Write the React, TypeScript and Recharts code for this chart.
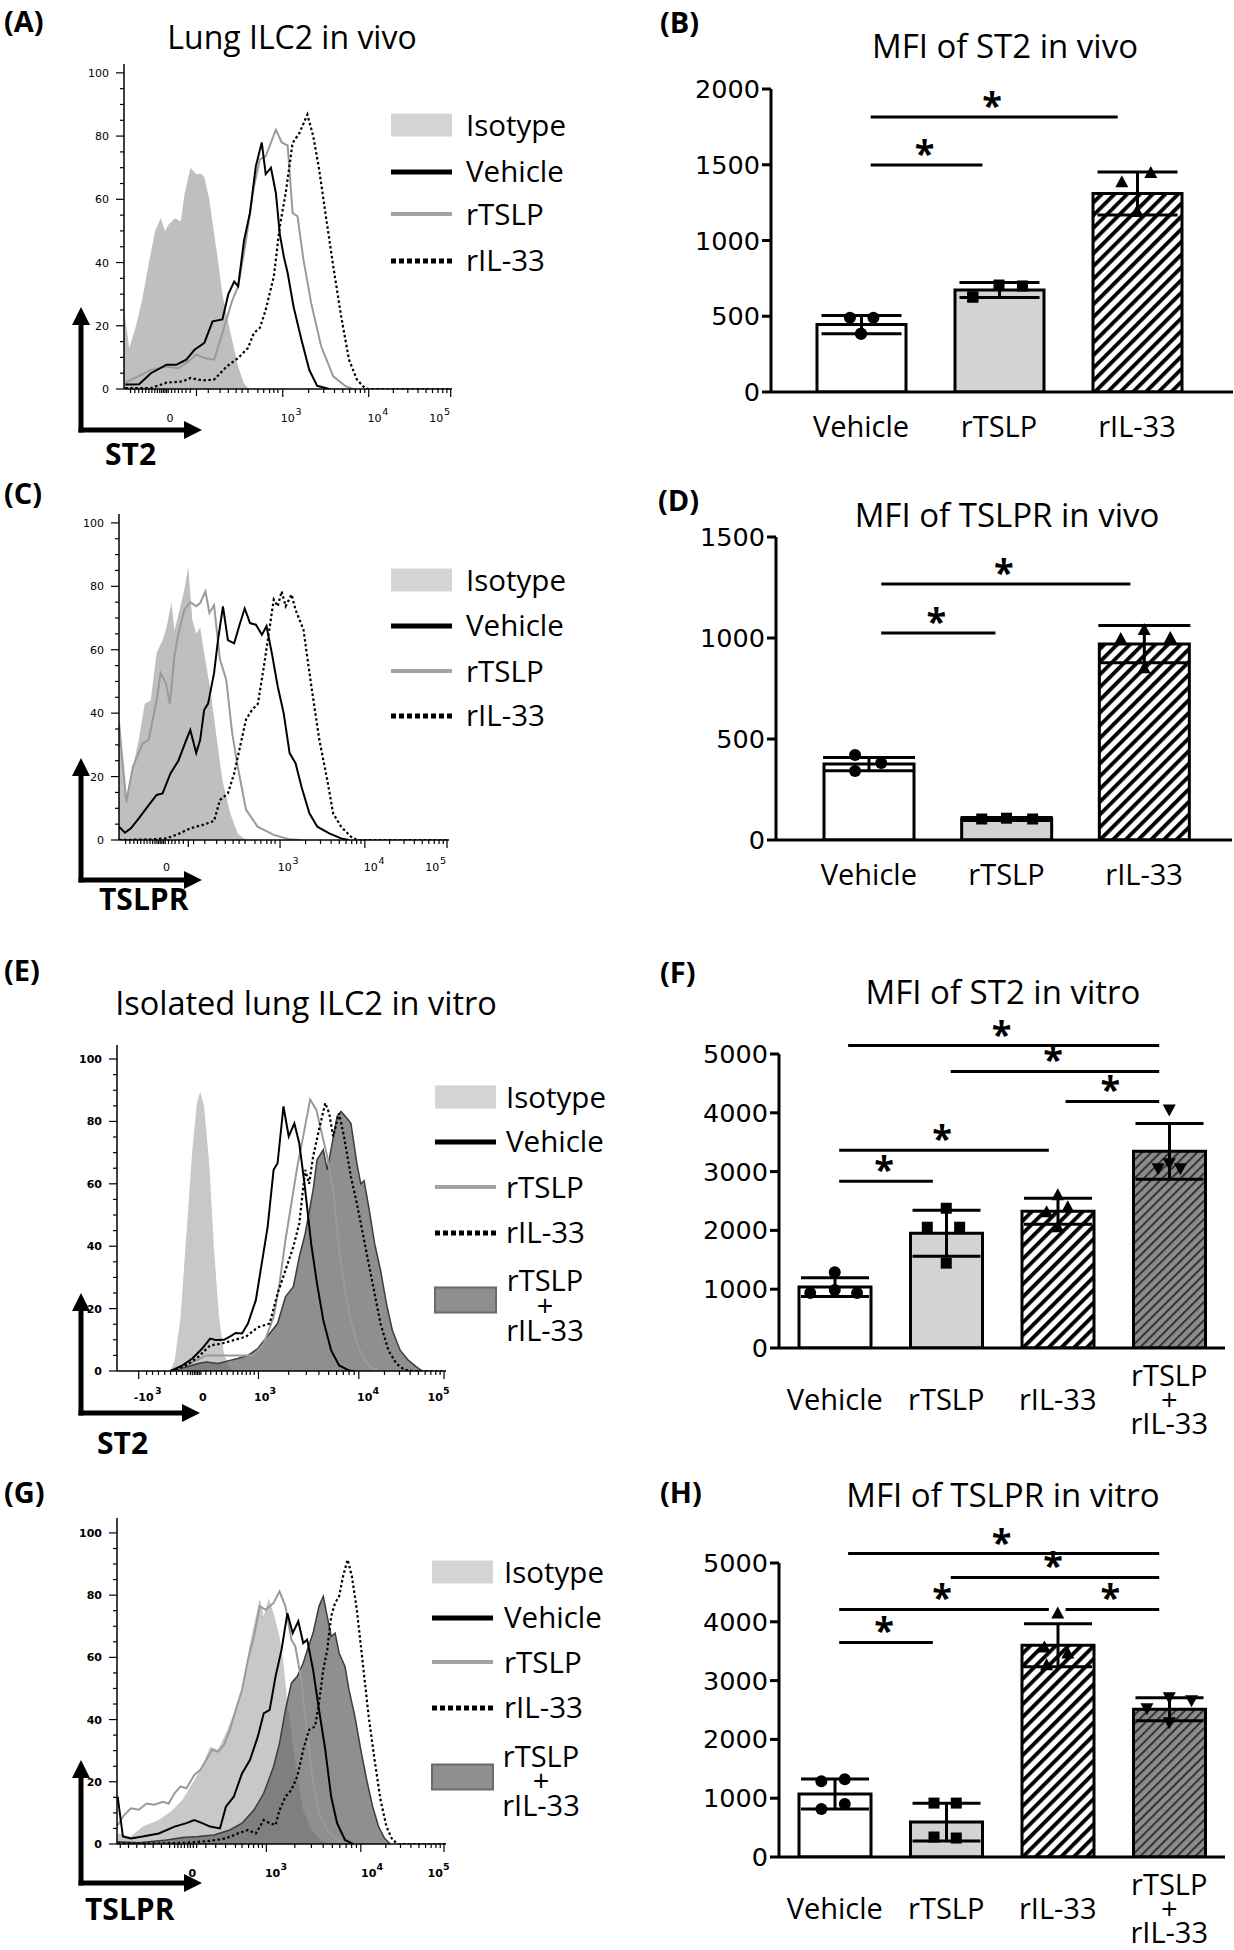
import React from "react";
import {
  ComposedChart,
  Line,
  Area,
  Bar,
  Cell,
  ErrorBar,
  Scatter,
  XAxis,
  YAxis,
  ReferenceLine,
  ReferenceDot,
} from "recharts";

const SANS = '"Open Sans", "Noto Sans", sans-serif';
const NUM = '"DejaVu Sans", sans-serif';

type Pt = [number, number];

// ---------- histogram curves: x = position across the plot (0..100), y = % of max ----------
const A_ISO: Pt[] = [[0,25],[1.6,13],[3.4,19],[5.5,28],[7.6,40],[9.5,50],[11.2,54],[12.5,50],[13.6,52],[15.5,54],[17.3,53],[18.5,62],[20.3,70],[22,68],[23.5,68],[24.5,67],[26,60],[27.5,49],[29,38],[30,30],[32.4,18],[34.8,7],[36.5,2],[38,0]];
const A_VEH: Pt[] = [[0.4,1.4],[4.6,1.5],[8.2,5],[13,7.7],[16,7.7],[19,9.3],[21.5,12.4],[24.5,14.6],[27,21.4],[30,22],[31.8,30],[33.6,34],[34.8,32.5],[36.6,47],[38.4,55.7],[40.2,70.5],[42,78],[43.2,68],[44.8,70],[46.3,62],[47.5,49],[48.7,42],[49.9,36.7],[51.7,26],[54.1,15.6],[56.5,6],[58.9,1],[62.6,0]];
const A_TSLP: Pt[] = [[0.4,2],[8.2,6],[13,7],[16.7,6.6],[19.7,8.8],[22.1,10.9],[24.5,9.8],[27.5,9.3],[30,17.7],[33,28],[34.8,32.5],[37.2,47],[39.6,64],[41.4,72.6],[43.2,73.6],[46.3,82],[48.1,78],[49.9,77],[51.4,55.7],[52.9,54.6],[54.7,41],[57.1,27],[60.1,13.5],[63.8,4],[67.4,1],[69.8,0]];
const A_IL33: Pt[] = [[0.4,0.3],[8.2,0.3],[13,2],[17.9,2.4],[20.3,3.5],[23.9,2.7],[27.5,3],[31.2,7],[34.8,9.8],[37.8,13],[39.6,17.7],[41.4,19.3],[43.2,25],[45.7,35.7],[47.5,51.5],[49.3,62],[51.4,77.8],[53.5,81],[55.9,86.8],[57.7,80],[59.5,69.4],[61.4,55.7],[63.8,38.8],[66.2,23],[68.6,9.3],[71,3],[73.4,0.3],[74.6,0],[100,0]];

const C_ISO: Pt[] = [[0,38],[2.2,12.6],[4.2,23],[6,31.6],[7.8,43],[9.6,44],[11.4,59],[13.2,63],[14.4,67],[15.9,75],[16.8,66],[18.6,73.7],[19.8,79],[21,86],[22.2,69.5],[23.4,65],[24.6,67],[25.8,59],[27.6,48],[29.4,33.7],[31.3,19],[33.7,8.4],[36,2],[38.5,0]];
const C_TSLP: Pt[] = [[0,37],[2.2,12],[4.2,23],[7.2,30.5],[9,31.6],[11.4,44],[12.6,52.6],[14.2,49.5],[15.4,43],[16.8,58],[18,65],[19.8,72.6],[21.6,75],[23.4,73.7],[24.6,74.7],[26.2,78.4],[27.4,71.6],[28.8,74],[30.6,57],[32.5,50.5],[34.3,33.7],[36,23],[38.5,9.5],[42,4.2],[46.9,1.6],[51.7,0.2],[55.3,0]];
const C_VEH: Pt[] = [[0,4.2],[1.8,2.3],[3.6,3.7],[6,6.8],[9,11],[11.4,14.2],[13.2,14.7],[15.6,21],[18,25],[20.4,31.6],[21.6,34.7],[23.4,27.4],[24.6,31.6],[25.8,41],[27,43],[28.8,52.6],[30,63],[31.5,73.7],[33,63],[34.9,62],[36.7,68.4],[38.1,73],[39.7,68.4],[41.5,67.9],[43.3,64.7],[44.7,67.4],[46.3,59],[48.1,48.4],[49.9,40],[51.7,27.4],[53.5,24.2],[55.3,16.8],[57.7,8.4],[60.1,4.2],[63.7,2.1],[67.3,0.5],[69.7,0]];
const C_IL33: Pt[] = [[0,0],[9.6,0.2],[14.4,0.5],[18,1.9],[21.6,3.7],[25.2,4.7],[28.8,6],[30.6,12.6],[33,14.7],[34.9,21],[36.7,29.5],[38.5,38],[40.3,41],[42.1,43],[43.9,54.7],[45.7,67.4],[46.9,75.8],[48.1,73.7],[49.3,78.4],[50.5,73.7],[52.3,77.4],[53.5,72.6],[55.9,66.3],[58.3,48.4],[60.7,31.6],[63.1,19],[64.9,8.4],[67.3,4.2],[70.3,1],[72.1,0],[100,0]];

const E_ISO: Pt[] = [[16.3,0],[17.5,3.4],[19.3,17],[21.1,44],[22.9,71],[24.3,86],[25.3,89.6],[26.5,84.8],[28.1,65.5],[29.5,38.8],[31,17.3],[32.5,5.6],[34.3,0.7],[36.1,0]];
const E_COMBO: Pt[] = [[16.3,0],[21.1,1.3],[24.7,2.4],[27.1,2.9],[30.7,2.4],[34.3,3.4],[36.7,4],[39.8,5],[42.8,7.2],[46.4,12],[48.8,15.2],[51.2,23.8],[53.6,27],[55.4,36.6],[57.2,44],[59.6,58],[60.8,67.7],[62.7,70.9],[63.9,64.5],[65.4,73],[66.9,81.6],[68.1,83.2],[69.9,81],[71.1,79.4],[72.9,66.6],[74.1,60],[75.1,61],[76.5,52.7],[78.3,40.9],[80.1,32.3],[81.9,21.6],[83.7,13],[86.1,6.6],[88.6,3.4],[91,1.3],[92.8,0]];
const E_VEH: Pt[] = [[16.3,0],[19.9,1.8],[22.9,4],[25.9,7.2],[28.3,10.4],[30.1,9.9],[32.5,10],[34.3,11],[36.1,12.2],[38,12],[39.8,15.2],[42.2,22.7],[44,34.5],[45.8,46.3],[47.6,64.5],[48.8,66.6],[50.6,84.8],[52.2,75.2],[53.9,79.4],[55.4,73],[57,60],[59,40.9],[60.8,28],[62.7,16.3],[65.1,6.6],[67.5,1.8],[70.5,0.2],[72,0]];
const E_TSLP: Pt[] = [[16.3,0],[22.3,2.4],[27.1,5],[41.6,5],[44.6,8.8],[47.6,17.3],[49.4,28],[51.2,42],[53,53.7],[54.8,65.5],[56.6,75.2],[58.7,87],[60.6,83.7],[62,77.3],[63.9,68.7],[65.7,58],[67.5,38.8],[69.3,25.9],[71.1,16.3],[72.9,8.8],[75.3,3.4],[77.7,0.7],[80.1,0]];
const E_IL33: Pt[] = [[16.3,0],[21.1,1.8],[24.7,4.5],[28.3,8.2],[31.9,8.8],[35.5,9.9],[39.2,11],[42.8,14],[46.4,15.2],[48.8,24.8],[51.2,32.3],[53.6,39.8],[55.4,47.3],[57.2,64.5],[58.4,60],[59.6,68.7],[61.4,77.3],[63.3,85.9],[64.5,82.6],[65.7,75.2],[67.5,82.6],[69,75.2],[71.1,62.3],[72.9,53.7],[75.3,40.9],[77.7,28],[80.1,15.2],[82.5,6.6],[84.9,2.4],[87.3,0.4],[89.8,0],[100,0]];

const G_ISO: Pt[] = [[0,3],[0.6,3.4],[4.2,2.4],[7.8,5.6],[12.7,7.7],[16.3,10.4],[19.9,14.2],[23.5,20.6],[25.9,24.9],[28.3,31.3],[30.7,30.3],[33.1,35.6],[35.5,42],[37.3,47.4],[38.6,51.7],[40.2,63.5],[42.2,73.2],[43.4,79],[44.6,73.2],[46.1,79],[47.6,74.2],[49.4,66.7],[50.6,58],[51.8,45.3],[53.4,32.4],[54.8,21.7],[56.6,10.9],[59,4.5],[62,1.3],[64.5,0]];
const G_TSLP: Pt[] = [[0.2,6],[1.8,8.8],[4.2,11.5],[6.6,11],[9,13],[11.4,12.6],[13.9,13.6],[15.7,13],[17.5,16.3],[19.3,18.5],[21.1,17.9],[23.5,22.2],[25.3,23.8],[27.1,27],[28.9,30.3],[30.7,29.7],[32.5,31.9],[34.3,36.7],[36.1,43.1],[38,49.6],[39.8,59.2],[41.6,66.7],[43.4,76.4],[45.2,75.3],[47.6,77.5],[49.4,81.2],[51.2,76.4],[53,65.7],[54.2,63.5],[56,52.8],[57.8,35.6],[59.6,19.5],[61.4,9.9],[63.9,4.5],[66.9,1.3],[69.3,0]];
const G_VEH: Pt[] = [[0.2,15.2],[1.8,2.4],[4.2,1.8],[7.8,2.4],[12.7,3.4],[17.5,5.6],[21.1,6.7],[23.5,7.7],[25.9,6.7],[28.3,5.6],[31.3,5],[33.1,12],[35.5,15.2],[38,22.7],[40.4,27],[42.8,34.5],[44.6,42],[46.4,43.1],[48.2,53.9],[50,62.4],[51.8,74.2],[53.4,67.8],[55.1,71.6],[56.6,64.6],[57.8,65.7],[59.6,56],[61.4,43.1],[63.3,30.3],[65.1,15.2],[66.9,6.7],[69.3,1.3],[71.7,0]];
const G_COMBO: Pt[] = [[0.2,0.7],[6.6,0.4],[15.1,1.3],[19.9,2.1],[24.7,2.4],[29.5,2.9],[34.3,4.5],[38,6.7],[41.6,10.9],[44.6,16.3],[47.6,24.9],[49.4,32.4],[51.2,43.1],[53,51.7],[54.8,53.9],[56.6,58.2],[58.2,63.5],[59.6,67.8],[61.4,76.4],[62.7,79.6],[63.9,73.2],[65.1,66.7],[66.3,67.8],[67.5,61.4],[69.3,57.1],[70.5,49.6],[72.3,41],[74.1,30.3],[75.9,20.6],[77.7,12],[79.5,5.6],[81.3,1.8],[83.1,0]];
const G_IL33: Pt[] = [[0.2,0.2],[12.7,0.2],[21.1,0.4],[28.3,1],[33.1,1.8],[36.7,3.4],[39.8,4.5],[42.2,3.4],[44.6,7.7],[46.4,6.7],[48.2,6.1],[49.4,10.9],[51.2,15.2],[53,17.4],[54.8,21.7],[56.6,30.3],[58.4,36.7],[60.2,37.8],[61.4,45.3],[62.7,56],[63.9,62.4],[65.1,73.2],[66.3,77.5],[67.5,79.6],[68.7,86],[70.1,91.4],[71.4,86],[72.9,75.3],[74.7,58.2],[76.5,41],[78.3,27],[80.1,14.2],[81.9,5.6],[83.7,1.3],[85.5,0],[100,0]];

// ---------- bar charts ----------
const CATS3 = ["Vehicle", "rTSLP", "rIL-33"];
const CATS4 = ["Vehicle", "rTSLP", "rIL-33", "rTSLP\n+\nrIL-33"];

const B_MEAN = [445, 673, 1310];
const B_SD = [60, 50, 142];
const B_PTS = [[490, 490, 385, 385], [627, 706, 700, 627], [1385, 1445, 1190, 1190]];
const B_SIG = [[0.07, 1.86, 1815], [0.07, 0.88, 1498]];

const D_MEAN = [376, 104, 970];
const D_SD = [33, 8, 92];
const D_PTS = [[421, 381, 342], [104, 108, 104], [995, 1040, 1000, 850]];
const D_SIG = [[0.09, 1.9, 1267], [0.09, 0.92, 1025]];

const F_MEAN = [1036, 1952, 2326, 3345];
const F_SD = [160, 390, 220, 475];
const F_PTS = [[934, 1290, 985, 934], [2377, 2054, 2054, 1443], [2598, 2309, 2394, 2054], [4058, 3056, 3056, 3141]];
const F_SIG = [[0.12, 2.91, 5144], [1.04, 2.91, 4703], [2.07, 2.91, 4193], [0.04, 1.92, 3362], [0.04, 0.88, 2835]];

const H_MEAN = [1070, 594, 3600, 2513];
const H_SD = [255, 320, 365, 195];
const H_PTS = [[1290, 1324, 815, 900], [917, 917, 340, 323], [4143, 3565, 3463, 3260], [2530, 2716, 2665, 2292]];
const H_SIG = [[0.12, 2.91, 5161], [1.04, 2.91, 4754], [0.04, 1.92, 4210], [2.07, 2.91, 4210], [0.04, 0.88, 3650]];

// horizontal scatter of the dots inside each bar (layout only)
const B_JIT = [[-0.08, 0.09, 0, 0], [-0.19, 0, 0.17, -0.19], [-0.11, 0.1, 0, 0]];
const D_JIT = [[-0.1, 0.09, -0.1], [-0.18, 0, 0.19], [-0.17, 0, 0.19, 0]];
const F_JIT = [[-0.22, 0, 0, 0.2], [0, -0.17, 0.12, 0], [0, -0.1, 0.09, 0], [0, -0.1, 0.1, 0]];
const H_JIT = [[-0.12, 0.09, -0.12, 0.09], [-0.11, 0.09, -0.11, 0.09], [0, -0.12, 0.09, -0.1], [-0.2, 0, 0.2, 0]];

// ---------- histogram axis ticks ----------
type Tick = { v: number; len?: number; base?: string; exp?: string };
const minor = (vs: number[]): Tick[] => vs.map((v) => ({ v, len: 4 }));
const decade = (a: number, b: number): Tick[] =>
  [2, 3, 4, 5, 6, 7, 8, 9].map((k) => ({ v: a + Math.log10(k) * (b - a), len: 4 }));

const A_TICKS: Tick[] = [
  ...minor([2, 3.3, 4.5, 5.6, 6.6, 7.6, 8.5, 9.4, 10.2, 10.9, 11.5, 12, 12.5, 13, 13.5, 14.5, 15.5, 16.6, 17.7, 18.9, 20.2, 25.7, 29.3, 31.8, 34.2, 36, 37.8, 40.8, 42.6, 44.4, 45.7, 46.9]),
  { v: 22.1, len: 7 }, { v: 48.4, len: 8 }, { v: 74.6, len: 8 }, { v: 99.6, len: 8 },
  ...decade(48.4, 74.6), ...decade(74.6, 99.6),
  { v: 14, base: "0" }, { v: 49.9, base: "10", exp: "3" }, { v: 76.4, base: "10", exp: "4" }, { v: 95.2, base: "10", exp: "5" },
];
const C_TICKS: Tick[] = [
  ...minor([2, 3.3, 4.5, 5.6, 6.6, 7.6, 8.5, 9.4, 10.2, 10.9, 11.5, 12, 12.5, 13, 13.5, 14, 15, 16, 17, 18.2, 19.5, 22.6, 26, 29.6, 32.2, 34.6, 36.4, 38.2, 41.2, 43, 44.8, 46.1, 47.3]),
  { v: 21, len: 7 }, { v: 48.8, len: 8 }, { v: 74.5, len: 8 }, { v: 99.4, len: 8 },
  ...decade(48.8, 74.5), ...decade(74.5, 99.4),
  { v: 14.4, base: "0" }, { v: 50.2, base: "10", exp: "3" }, { v: 76.3, base: "10", exp: "4" }, { v: 94.9, base: "10", exp: "5" },
];
const E_TICKS: Tick[] = [
  ...minor([9, 10.8, 12.6, 14.5, 16.3, 18.1, 19.9, 21.5, 22.3, 22.9, 23.5, 24, 24.5, 25, 25.5, 27, 28.5, 30.2, 31.8, 33.5, 35.3, 36.7, 38, 39.3, 40.5, 41.7]),
  { v: 6.6, len: 8 }, { v: 43, len: 8 }, { v: 73.5, len: 8 }, { v: 99.4, len: 8 },
  ...decade(43, 73.5), ...decade(73.5, 99.4),
  { v: 8.1, base: "-10", exp: "3" }, { v: 26.1, base: "0" }, { v: 44, base: "10", exp: "3" }, { v: 75.3, base: "10", exp: "4" }, { v: 96.7, base: "10", exp: "5" },
];
const G_TICKS: Tick[] = [
  ...minor([1, 3.5, 6, 8.5, 11, 13.5, 16, 17.5, 18.5, 19.5, 20.5, 21.5, 22.3, 23.2, 24.2, 27, 30, 33, 36, 38, 40, 41.5, 43, 44.2]),
  { v: 45.4, len: 8 }, { v: 74.1, len: 8 }, { v: 99.4, len: 8 },
  ...decade(45.4, 74.1), ...decade(74.1, 99.4),
  { v: 22.9, base: "0" }, { v: 47.3, base: "10", exp: "3" }, { v: 76.5, base: "10", exp: "4" }, { v: 96.7, base: "10", exp: "5" },
];

const HIST_Y_TICKS = [0, 5, 10, 15, 20, 25, 30, 35, 40, 45, 50, 55, 60, 65, 70, 75, 80, 85, 90, 95, 100];

function mergeSeries(series: Record<string, Pt[] | undefined>) {
  const rows: Record<string, number>[] = [];
  Object.entries(series).forEach(([key, pts]) => {
    (pts || []).forEach(([x, y]) => rows.push({ x, [key]: y }));
  });
  rows.sort((a, b) => a.x - b.x);
  return rows;
}

interface HistProps {
  l: number;
  t: number;
  w: number;
  h: number;
  ymax: number;
  iso: Pt[];
  veh: Pt[];
  tslp: Pt[];
  il33: Pt[];
  combo?: Pt[];
  ticks: Tick[];
  labelDy: number;
  bold?: boolean;
  isoFill: string;
}

const YL = 52;
const MT = 4;
const MR = 4;
const XH = 46;

function Hist(p: HistProps) {
  const rows = mergeSeries({ iso: p.iso, combo: p.combo, veh: p.veh, tslp: p.tslp, il33: p.il33 });
  const map = new Map<number, Tick>();
  p.ticks.forEach((t) => map.set(t.v, { ...(map.get(t.v) || {}), ...t }));
  const tickVals = Array.from(map.keys());
  const fw = p.bold ? 700 : 400;
  const find = (v: number) => {
    for (const t of map.values()) if (Math.abs(t.v - v) < 1e-6) return t;
    return { v };
  };

  const xTick = (tp: any) => {
    const t: Tick = find(tp.payload.value);
    const half = t.base ? t.base.length * 0.33 * 11 : 0;
    return (
      <g>
        {t.len ? <line x1={tp.x} x2={tp.x} y1={tp.y} y2={tp.y + t.len} stroke="#000" strokeWidth={1.2} /> : null}
        {t.base ? (
          <text x={tp.x} y={tp.y + p.labelDy} textAnchor="middle" fontFamily={NUM} fontSize={11} fontWeight={fw} fill="#000">
            {t.base}
          </text>
        ) : null}
        {t.exp ? (
          <text x={tp.x + half + 0.5} y={tp.y + p.labelDy - 7} fontFamily={NUM} fontSize={9.5} fontWeight={fw} fill="#000">
            {t.exp}
          </text>
        ) : null}
      </g>
    );
  };

  const yTick = (tp: any) => {
    const v = tp.payload.value;
    const major = v % 20 === 0;
    return (
      <g>
        <line x1={tp.x - (major ? 8 : 4)} x2={tp.x} y1={tp.y} y2={tp.y} stroke="#000" strokeWidth={1.2} />
        {major ? (
          <text x={tp.x - 15} y={tp.y + 4} textAnchor="end" fontFamily={NUM} fontSize={11} fontWeight={fw} fill="#000">
            {v}
          </text>
        ) : null}
      </g>
    );
  };

  const frame = { stroke: "#000", strokeWidth: 1.5 };

  return (
    <div style={{ position: "absolute", left: p.l - YL, top: p.t - MT }}>
      <ComposedChart
        width={p.w + YL + MR}
        height={p.h + MT + XH}
        data={rows}
        margin={{ top: MT, right: MR, bottom: 0, left: 0 }}
      >
        <XAxis
          dataKey="x"
          type="number"
          domain={[0, 100]}
          allowDataOverflow
          ticks={tickVals}
          interval={0}
          tickSize={0}
          tickMargin={0}
          tickLine={false}
          height={XH}
          axisLine={frame}
          tick={xTick}
        />
        <XAxis xAxisId="top" orientation="top" type="number" domain={[0, 100]} tick={false} tickLine={false} height={0} axisLine={frame} />
        <YAxis
          type="number"
          domain={[0, p.ymax]}
          allowDataOverflow
          ticks={HIST_Y_TICKS}
          interval={0}
          width={YL}
          tickSize={0}
          tickMargin={0}
          tickLine={false}
          axisLine={frame}
          tick={yTick}
        />
        <YAxis yAxisId="r" orientation="right" type="number" domain={[0, 1]} tick={false} tickLine={false} width={0} axisLine={frame} />
        <Area dataKey="iso" type="linear" fill={p.isoFill} fillOpacity={1} stroke="none" connectNulls dot={false} activeDot={false} isAnimationActive={false} />
        {p.combo ? (
          <Area dataKey="combo" type="linear" fill="#5f5f5f" fillOpacity={0.7} stroke="#3c3c3c" strokeWidth={1.5} connectNulls dot={false} activeDot={false} isAnimationActive={false} />
        ) : null}
        <Line dataKey="tslp" type="linear" stroke="#9a9a9a" strokeWidth={2} connectNulls dot={false} activeDot={false} isAnimationActive={false} />
        <Line dataKey="veh" type="linear" stroke="#000" strokeWidth={2} connectNulls dot={false} activeDot={false} isAnimationActive={false} />
        <Line dataKey="il33" type="linear" stroke="#000" strokeWidth={2.2} strokeDasharray="2.5 2.5" connectNulls dot={false} activeDot={false} isAnimationActive={false} />
      </ComposedChart>
    </div>
  );
}

// ---------- bar panel ----------
interface BarProps {
  id: string;
  l: number;
  r: number;
  t: number;
  b: number;
  padL: number;
  padR: number;
  ymax: number;
  yTicks: number[];
  cats: string[];
  means: number[];
  sds: number[];
  pts: number[][];
  jit: number[][];
  sig: number[][];
  barSize: number;
  cap: number;
  catDy: number;
}

const YW = 95;
const TOPM = 70;
const BXH = 100;
const RM = 2;

const marker = (sp: any) => {
  const { cx, cy } = sp;
  const g = sp.payload ? sp.payload.g : 0;
  if (g === 0) return <circle cx={cx} cy={cy} r={6} fill="#000" />;
  if (g === 1) return <rect x={cx - 5.5} y={cy - 5.5} width={11} height={11} fill="#000" />;
  if (g === 2) return <polygon points={`${cx},${cy - 7} ${cx - 6.5},${cy + 5} ${cx + 6.5},${cy + 5}`} fill="#000" />;
  return <polygon points={`${cx},${cy + 7} ${cx - 6.5},${cy - 5} ${cx + 6.5},${cy - 5}`} fill="#000" />;
};

const star = (sp: any) => (
  <text x={sp.cx - 2} y={sp.cy + 1} textAnchor="middle" fontFamily={SANS} fontSize={36} fontWeight={700} fill="#000">
    *
  </text>
);

function BarPanel(p: BarProps) {
  const rows = p.cats.map((name, i) => ({ name, mean: p.means[i], sd: p.sds[i] }));
  const dots = p.pts.flatMap((vals, g) => vals.map((v, k) => ({ x: g + p.jit[g][k], y: v, g })));
  const fills = ["#ffffff", "#d3d3d3", `url(#hw-${p.id})`, `url(#hg-${p.id})`];
  const n = p.cats.length;

  const catTick = (tp: any) => {
    const lines = String(tp.payload.value).split("\n");
    const lh = 24;
    const y0 = tp.y + p.catDy - ((lines.length - 1) * lh) / 2;
    return (
      <text x={tp.x} y={y0} textAnchor="middle" fontFamily={SANS} fontSize={29} fill="#000">
        {lines.map((s, i) => (
          <tspan key={i} x={tp.x} y={y0 + i * lh}>
            {s}
          </tspan>
        ))}
      </text>
    );
  };

  return (
    <div style={{ position: "absolute", left: p.l - YW, top: p.t - TOPM }}>
      <ComposedChart
        width={YW + (p.r - p.l) + RM}
        height={TOPM + (p.b - p.t) + BXH}
        data={rows}
        margin={{ top: TOPM, right: RM, bottom: 0, left: 0 }}
      >
        <defs>
          <pattern id={`hw-${p.id}`} patternUnits="userSpaceOnUse" width={9} height={9} patternTransform="rotate(45)">
            <rect width={9} height={9} fill="#fff" />
            <rect width={3.8} height={9} fill="#000" />
          </pattern>
          <pattern id={`hg-${p.id}`} patternUnits="userSpaceOnUse" width={6.5} height={6.5} patternTransform="rotate(45)">
            <rect width={6.5} height={6.5} fill="#8c8c8c" />
            <rect width={2} height={6.5} fill="#333" />
          </pattern>
        </defs>
        <XAxis
          xAxisId="cat"
          dataKey="name"
          type="category"
          padding={{ left: p.padL, right: p.padR }}
          interval={0}
          tickSize={0}
          tickMargin={0}
          tickLine={false}
          height={BXH}
          axisLine={{ stroke: "#000", strokeWidth: 3 }}
          tick={catTick}
        />
        <XAxis
          xAxisId="num"
          dataKey="x"
          type="number"
          domain={[-0.5, n - 0.5]}
          allowDataOverflow
          padding={{ left: p.padL, right: p.padR }}
          hide
        />
        <YAxis
          type="number"
          domain={[0, p.ymax]}
          allowDataOverflow
          ticks={p.yTicks}
          interval={0}
          width={YW}
          tickSize={9}
          tickMargin={2}
          axisLine={{ stroke: "#000", strokeWidth: 3 }}
          tickLine={{ stroke: "#000", strokeWidth: 3 }}
          tick={{ fontFamily: NUM, fontSize: 25.5, fill: "#000" }}
        />
        <Bar xAxisId="cat" dataKey="mean" barSize={p.barSize} stroke="#000" strokeWidth={3} isAnimationActive={false}>
          {rows.map((_, i) => (
            <Cell key={i} fill={fills[i]} />
          ))}
          <ErrorBar dataKey="sd" width={p.cap} stroke="#000" strokeWidth={3} direction="y" />
        </Bar>
        <Scatter xAxisId="num" data={dots} dataKey="y" shape={marker} isAnimationActive={false} />
        {p.sig.map((s, i) => (
          <ReferenceLine
            key={`l${i}`}
            xAxisId="num"
            segment={[{ x: s[0], y: s[2] }, { x: s[1], y: s[2] }]}
            stroke="#000"
            strokeWidth={3}
            ifOverflow="visible"
          />
        ))}
        {p.sig.map((s, i) => (
          <ReferenceDot key={`s${i}`} xAxisId="num" x={(s[0] + s[1]) / 2} y={s[2]} ifOverflow="visible" shape={star} />
        ))}
      </ComposedChart>
    </div>
  );
}

// ---------- text / legend overlay ----------
const base = (c: number, fs: number) => c + 0.36 * fs;

function Txt(props: { x: number; c: number; fs?: number; bold?: boolean; anchor?: "start" | "middle" | "end"; children: React.ReactNode }) {
  const fs = props.fs || 29;
  return (
    <text
      x={props.x}
      y={base(props.c, fs)}
      fontSize={fs}
      fontWeight={props.bold ? 700 : 400}
      textAnchor={props.anchor || "start"}
      fontFamily={SANS}
      fill="#000"
    >
      {props.children}
    </text>
  );
}

function Letter({ x, c, s }: { x: number; c: number; s: string }) {
  return (
    <text x={x} y={c + 0.28 * 29} fontSize={29} fontWeight={700} fontFamily={SANS} fill="#000">
      {s}
    </text>
  );
}

function Arrow({ x, y, top, right }: { x: number; y: number; top: number; right: number }) {
  return (
    <g>
      <line x1={x} x2={x} y1={y + 2.5} y2={top + 16} stroke="#000" strokeWidth={5} />
      <line x1={x - 2.5} x2={right - 16} y1={y} y2={y} stroke="#000" strokeWidth={5} />
      <polygon points={`${x},${top} ${x - 9},${top + 18} ${x + 9},${top + 18}`} fill="#000" />
      <polygon points={`${right},${y} ${right - 18},${y - 9} ${right - 18},${y + 9}`} fill="#000" />
    </g>
  );
}

function HistLegend(p: { r: number; gap: [number, number]; sx: number; tx: number; ys: number[]; combo?: { box: number; lines: number[]; cx: number } }) {
  const sw = 61;
  return (
    <g>
      <rect x={p.r - 3} y={p.gap[0]} width={6} height={p.gap[1] - p.gap[0]} fill="#fff" />
      <rect x={p.sx} y={p.ys[0] - 11.5} width={sw} height={23} fill="#d4d4d4" />
      <line x1={p.sx} x2={p.sx + sw} y1={p.ys[1] + 1} y2={p.ys[1] + 1} stroke="#000" strokeWidth={5} />
      <line x1={p.sx} x2={p.sx + sw} y1={p.ys[2]} y2={p.ys[2]} stroke="#a3a3a3" strokeWidth={4} />
      <line x1={p.sx} x2={p.sx + sw} y1={p.ys[3] + 1} y2={p.ys[3] + 1} stroke="#000" strokeWidth={5} strokeDasharray="5 3" />
      <Txt x={p.tx} c={p.ys[0]} fs={29.5}>Isotype</Txt>
      <Txt x={p.tx} c={p.ys[1]} fs={29.5}>Vehicle</Txt>
      <Txt x={p.tx} c={p.ys[2]} fs={29.5}>rTSLP</Txt>
      <Txt x={p.tx} c={p.ys[3]} fs={29.5}>rIL-33</Txt>
      {p.combo ? (
        <g>
          <rect x={p.sx} y={p.combo.box - 12.5} width={sw} height={25} fill="#8f8f8f" stroke="#6b6b6b" strokeWidth={2} />
          <Txt x={p.combo.cx} c={p.combo.lines[0]} anchor="middle">rTSLP</Txt>
          <Txt x={p.combo.cx} c={p.combo.lines[1]} anchor="middle">+</Txt>
          <Txt x={p.combo.cx} c={p.combo.lines[2]} anchor="middle">rIL-33</Txt>
        </g>
      ) : null}
    </g>
  );
}

function Overlay() {
  return (
    <svg width={1234} height={1950} style={{ position: "absolute", left: 0, top: 0, pointerEvents: "none" }}>
      <Letter x={4} c={24} s="(A)" />
      <Letter x={660} c={25} s="(B)" />
      <Letter x={4} c={496} s="(C)" />
      <Letter x={658} c={503} s="(D)" />
      <Letter x={4} c={973} s="(E)" />
      <Letter x={660} c={975} s="(F)" />
      <Letter x={4} c={1495} s="(G)" />
      <Letter x={660} c={1495} s="(H)" />

      <Txt x={292} c={37} fs={32} anchor="middle">Lung ILC2 in vivo</Txt>
      <Txt x={1005} c={46} fs={33} anchor="middle">MFI of ST2 in vivo</Txt>
      <Txt x={1007} c={515} fs={33} anchor="middle">MFI of TSLPR in vivo</Txt>
      <Txt x={306} c={1003} fs={32.5} anchor="middle">Isolated lung ILC2 in vitro</Txt>
      <Txt x={1003} c={992} fs={33} anchor="middle">MFI of ST2 in vitro</Txt>
      <Txt x={1003} c={1495} fs={33} anchor="middle">MFI of TSLPR in vitro</Txt>

      <Arrow x={81} y={430} top={307} right={202} />
      <Arrow x={81} y={880} top={758} right={202} />
      <Arrow x={81} y={1413} top={1293} right={200} />
      <Arrow x={81} y={1883} top={1760} right={202} />
      <Txt x={105} c={454} fs={30} bold>ST2</Txt>
      <Txt x={99} c={899} fs={30} bold>TSLPR</Txt>
      <Txt x={97} c={1443} fs={30} bold>ST2</Txt>
      <Txt x={85} c={1909} fs={30} bold>TSLPR</Txt>

      <HistLegend r={452} gap={[90, 290]} sx={391} tx={466} ys={[125, 171, 214, 260]} />
      <HistLegend r={449} gap={[545, 747]} sx={391} tx={466} ys={[580, 625, 671, 715]} />
      <HistLegend
        r={446}
        gap={[1067, 1317]}
        sx={435}
        tx={506}
        ys={[1097, 1141, 1187, 1232]}
        combo={{ box: 1300, lines: [1281, 1306, 1331], cx: 545 }}
      />
      <HistLegend
        r={446}
        gap={[1543, 1793]}
        sx={432}
        tx={504}
        ys={[1572, 1617, 1662, 1707]}
        combo={{ box: 1777, lines: [1757, 1781, 1806], cx: 541 }}
      />
    </svg>
  );
}

export default function App() {
  return (
    <div
      style={{
        position: "absolute",
        left: 0,
        top: 0,
        width: 1234,
        height: 1950,
        background: "#fff",
        overflow: "hidden",
        fontFamily: SANS,
      }}
    >
      <Hist l={124} t={64} w={328} h={325} ymax={102.8} iso={A_ISO} veh={A_VEH} tslp={A_TSLP} il33={A_IL33} ticks={A_TICKS} labelDy={33} isoFill="#bfbfbf" />
      <Hist l={119} t={514} w={330} h={326} ymax={102.8} iso={C_ISO} veh={C_VEH} tslp={C_TSLP} il33={C_IL33} ticks={C_TICKS} labelDy={31} isoFill="#bfbfbf" />
      <Hist l={117} t={1045} w={329} h={326} ymax={104.5} iso={E_ISO} veh={E_VEH} tslp={E_TSLP} il33={E_IL33} combo={E_COMBO} ticks={E_TICKS} labelDy={30} bold isoFill="#c8c8c8" />
      <Hist l={117} t={1518} w={329} h={326} ymax={104.8} iso={G_ISO} veh={G_VEH} tslp={G_TSLP} il33={G_IL33} combo={G_COMBO} ticks={G_TICKS} labelDy={33} bold isoFill="#c8c8c8" />

      <BarPanel id="b" l={771} r={1233} t={89} b={392} padL={21} padR={27} ymax={2000} yTicks={[0, 500, 1000, 1500, 2000]} cats={CATS3} means={B_MEAN} sds={B_SD} pts={B_PTS} jit={B_JIT} sig={B_SIG} barSize={89} cap={40} catDy={45} />
      <BarPanel id="d" l={776} r={1232} t={537} b={840} padL={24} padR={19} ymax={1500} yTicks={[0, 500, 1000, 1500]} cats={CATS3} means={D_MEAN} sds={D_SD} pts={D_PTS} jit={D_JIT} sig={D_SIG} barSize={90} cap={46} catDy={45} />
      <BarPanel id="f" l={779} r={1225} t={1054} b={1348} padL={0} padR={0} ymax={5000} yTicks={[0, 1000, 2000, 3000, 4000, 5000]} cats={CATS4} means={F_MEAN} sds={F_SD} pts={F_PTS} jit={F_JIT} sig={F_SIG} barSize={72} cap={34} catDy={62} />
      <BarPanel id="h" l={779} r={1225} t={1563} b={1857} padL={0} padR={0} ymax={5000} yTicks={[0, 1000, 2000, 3000, 4000, 5000]} cats={CATS4} means={H_MEAN} sds={H_SD} pts={H_PTS} jit={H_JIT} sig={H_SIG} barSize={72} cap={34} catDy={62} />

      <Overlay />
    </div>
  );
}
